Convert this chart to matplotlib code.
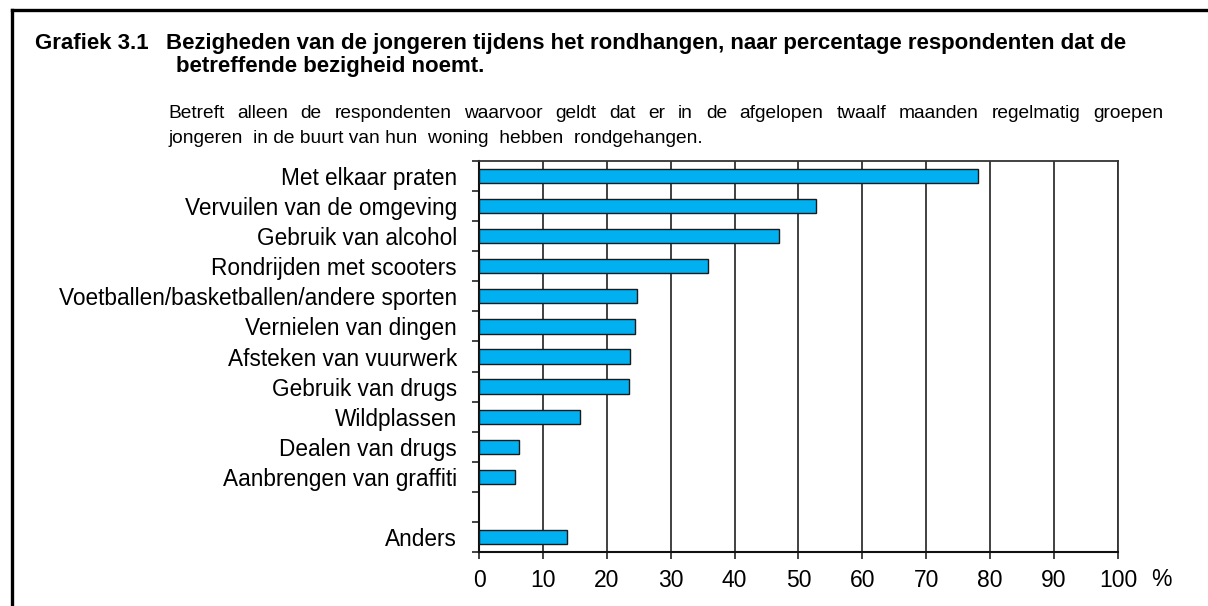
import matplotlib
matplotlib.use("Agg")
import matplotlib.pyplot as plt
from matplotlib.lines import Line2D
import numpy as np

plt.rcParams['font.family'] = ['Liberation Sans', 'DejaVu Sans']

categories = ["Met elkaar praten", "Vervuilen van de omgeving", "Gebruik van alcohol",
              "Rondrijden met scooters", "Voetballen/basketballen/andere sporten",
              "Vernielen van dingen", "Afsteken van vuurwerk", "Gebruik van drugs",
              "Wildplassen", "Dealen van drugs", "Aanbrengen van graffiti", "", "Anders"]
values = [78.1, 52.7, 47.0, 35.9, 24.8, 24.4, 23.7, 23.5, 15.8, 6.2, 5.6, None, 13.8]
xticks = [0, 10, 20, 30, 40, 50, 60, 70, 80, 90, 100]

W, H = 1208, 606
fig = plt.figure(figsize=(W / 100, H / 100), dpi=100)
ax = fig.add_axes([479 / W, 1 - 552 / H, (1118 - 479) / W, (552 - 161) / H])

pos = np.arange(len(categories))
for p, v in zip(pos, values):
    if v is None:
        continue
    ax.barh(p, v, height=0.475, color='#00B0F0', edgecolor='#1a1a1a', linewidth=1.0, zorder=3)

ax.set_xlim(0, 100)
ax.set_ylim(len(categories) - 0.5, -0.5)
ax.set_xticks(xticks)
ax.set_xticklabels([str(t) for t in xticks], fontsize=16.5)
ax.tick_params(axis='x', direction='out', length=5, width=1.2, color='#222222', pad=7)
ax.set_yticks(pos)
ax.set_yticklabels(categories, fontsize=16.3)
ax.tick_params(axis='y', which='major', length=0, pad=16)
ax.set_yticks(np.arange(-0.5, len(categories)), minor=True)
ax.tick_params(axis='y', which='minor', direction='out', length=5, width=1.2, color='#222222')

ax.grid(axis='x', color='#333333', linewidth=1.3, zorder=0)
ax.set_axisbelow(True)
for s in ['left', 'bottom']:
    ax.spines[s].set_color('#111111')
    ax.spines[s].set_linewidth(1.5)
for s in ['top', 'right']:
    ax.spines[s].set_color('#333333')
    ax.spines[s].set_linewidth(1.3)

fig.text(1161 / W, 1 - 580 / H, "%", fontsize=16.5, ha='center', va='center')

# frame
fig.add_artist(Line2D([12 / W, 12 / W], [0, 1 - 10 / H], color='black', linewidth=2.4,
                      transform=fig.transFigure, solid_capstyle='projecting'))
fig.add_artist(Line2D([12 / W, 1.0], [1 - 10 / H, 1 - 10 / H], color='black', linewidth=2.4,
                      transform=fig.transFigure, solid_capstyle='projecting'))

fig.text(35 / W, 1 - 49 / H, "Grafiek 3.1", fontsize=16, fontweight='bold', va='baseline', ha='left')
fig.text(166 / W, 1 - 49 / H,
         "Bezigheden van de jongeren tijdens het rondhangen, naar percentage respondenten dat de",
         fontsize=16, fontweight='bold', va='baseline', ha='left')
fig.text(176 / W, 1 - 72 / H, "betreffende bezigheid noemt.", fontsize=16, fontweight='bold',
         va='baseline', ha='left')

# justified first subtitle line
line1 = "Betreft alleen de respondenten waarvoor geldt dat er in de afgelopen twaalf maanden regelmatig groepen"
words = line1.split()
x0, x1 = 168, 1163
renderer = fig.canvas.get_renderer()
texts = []
widths = []
for w in words:
    t = fig.text(0, 1 - 118 / H, w, fontsize=13.8, va='baseline', ha='left')
    widths.append(t.get_window_extent(renderer).width)
    texts.append(t)
gap = (x1 - x0 - sum(widths)) / (len(words) - 1)
x = x0
for t, wd in zip(texts, widths):
    t.set_x(x / W)
    x += wd + gap
fig.text(168 / W, 1 - 143 / H, "jongeren  in de buurt van hun  woning  hebben  rondgehangen.",
         fontsize=13.8, va='baseline', ha='left')

fig.savefig("out.png", dpi=100)
